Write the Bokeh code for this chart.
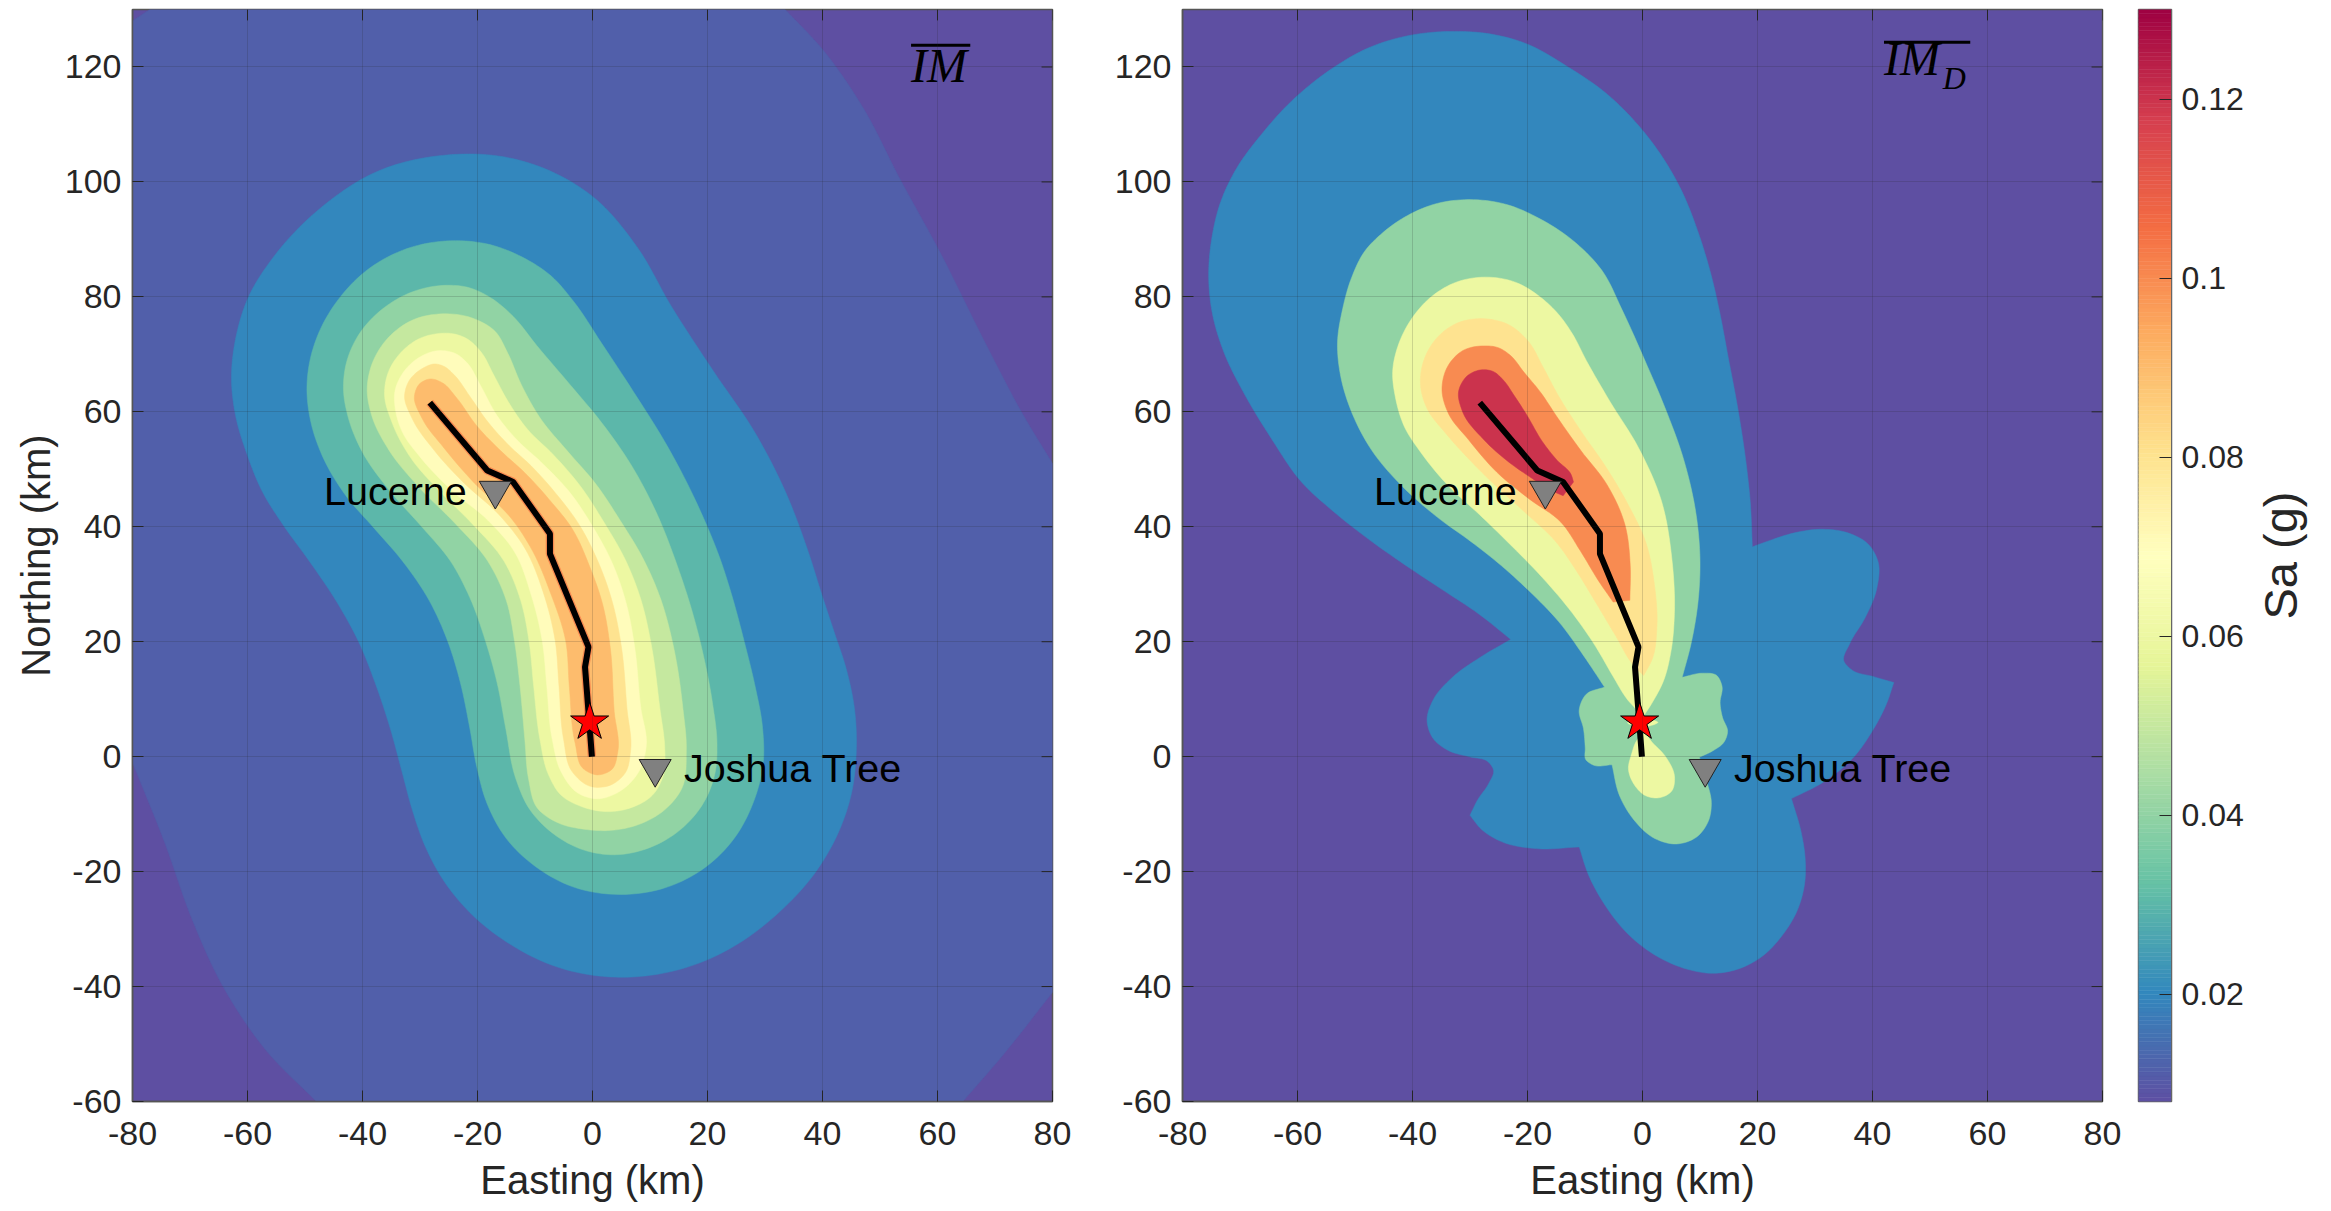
from bokeh.plotting import figure
from bokeh.layouts import row
from bokeh.models import Range1d, FixedTicker
from bokeh.core.properties import value
from bokeh.embed import file_html
from bokeh.resources import INLINE
import numpy as np
import math

x_ticks = list(range(-80, 81, 20))
y_ticks = list(range(-60, 121, 20))
x_tick_labels = {v: str(v) for v in x_ticks}
y_tick_labels = {v: str(v) for v in y_ticks}
cb_ticks = [0.02, 0.04, 0.06, 0.08, 0.10, 0.12]
cb_tick_labels = {0.02: "0.02", 0.04: "0.04", 0.06: "0.06", 0.08: "0.08", 0.10: "0.1", 0.12: "0.12"}
spectral = ["#5E4FA2", "#3288BD", "#66C2A5", "#ABDDA4", "#E6F598", "#FFFFBF", "#FEE08B", "#FDAE61", "#F46D43", "#D53E4F", "#9E0142"]
sa_min, sa_max = 0.008, 0.13

fault_x = [-28.3, -18.3, -13.8, -7.4, -7.4, -0.7, -1.3, -0.1]
fault_y = [61.6, 49.8, 47.8, 38.8, 35.3, 19.1, 15.6, 0.0]
epicenter = (-0.5, 6.0)
stations = {"Lucerne": (-16.9, 46.3), "Joshua Tree": (10.9, -2.1)}

# left panel contour outlines (Sa level -> easting, northing)
L010 = [(-77,130),(33.5,130),(40,123.5),(47.4,113),(53,101),(60,89),(68.7,71),(75,59),(80,51),(80,-41),(70.8,-52.8),(64.4,-60),(-48,-60),(-57,-51.5),(-64.4,-40.4),(-70,-28),(-74,-15.5),(-80,-1),(-80,128)]
L020 = [(-23.4,105.2),(-37.8,102.7),(-48.5,94.9),(-55.9,86.8),(-60.2,80),(-62.3,72.5),(-63,65.7),(-62.3,59.5),(-60.2,52.7),(-57.5,45.8),(-53.8,40.2),(-49.3,34.2),(-44.2,26.7),(-40.5,20),(-37.8,13),(-35.1,5),(-33,-3.1),(-31.4,-9.3),(-29.3,-15.5),(-26.1,-21.7),(-20.8,-28),(-14.4,-32.9),(-5.9,-37),(0.5,-38.2),(5.9,-38.5),(12.2,-37.9),(19.7,-35.7),(26.1,-32.3),(32.5,-27.3),(38.9,-20.5),(43.1,-13),(45.3,-6.2),(46,0.6),(45.8,8.1),(44.2,15.5),(42,21.7),(39.9,28),(38.1,34.2),(33.6,46.5),(28.8,56),(21,67),(13.3,78.6),(8.1,88.9),(0.4,98),(-9.1,103),(-16.5,104.7)]
L030 = [(-24.5,90.1),(-32.5,88.7),(-38.9,85.3),(-44.2,80),(-47.9,73.8),(-49.5,67.6),(-49.8,64.5),(-49.2,58.3),(-47.4,52.7),(-43.1,45.2),(-37.8,39.6),(-33,34.2),(-28.2,27.3),(-25,20),(-22.9,13),(-21.3,5),(-20.2,-1.9),(-18.6,-8.1),(-15.4,-14.3),(-10.1,-19.3),(-3.7,-23),(4.8,-24.4),(13.3,-23),(19.7,-19.6),(25,-14.3),(28.2,-8.1),(30,-0.6),(29.8,4.3),(28.2,13),(26.4,20),(24.5,27.3),(22.4,34.2),(18.6,43.4),(13.3,53.9),(6.9,63.9),(1.6,71.9),(-3.7,80),(-6.9,83.7),(-12.2,87.1),(-17.6,89.3)]
L040 = [(-25.3,82.2),(-31.4,81.2),(-36.7,78.1),(-41,73.5),(-43.1,68.2),(-43.5,63.9),(-42.6,58.9),(-40.5,53.3),(-35.7,46.5),(-29.3,39.6),(-24.5,34.2),(-21.3,28),(-18.5,20),(-16.5,13),(-15.1,5),(-13.5,-4.3),(-11.2,-9.3),(-6.9,-13.7),(-1.6,-16.5),(3.7,-17.4),(10.1,-16.1),(15.4,-13),(19.7,-8.1),(21.6,-2.5),(21.8,1.9),(21,9),(19.5,17),(17.5,25),(14.9,33),(11.2,42.7),(6.9,50.8),(1.6,58.3),(-3.7,64.5),(-10.1,71.9),(-13.8,76.9),(-17.6,80),(-21.8,81.9)]
L050 = [(-26.1,77.3),(-31.4,76.3),(-35.7,73.2),(-38.7,68.2),(-39.4,63.9),(-38.7,59.5),(-35.7,53.3),(-30.5,47),(-23.7,40.5),(-17.8,34.1),(-14.7,27.2),(-13.5,20),(-12.6,12.7),(-11.7,2.3),(-11.2,-4.1),(-10.1,-9.3),(-5.9,-11.8),(-1.6,-12.7),(3.2,-13),(8,-12.1),(12.8,-9.3),(15.9,-6.2),(16.5,1.2),(15.9,7.5),(14.1,20),(12.1,27.2),(8.9,34.7),(4.8,41.1),(0.8,47.5),(-4.5,53.3),(-9.1,58.5),(-12.6,64.9),(-14.9,70.7),(-16.5,74.1),(-20.8,76.6)]
L060 = [(-26.3,73.8),(-30.4,72.9),(-33.5,70.4),(-35.7,67),(-36.5,63.2),(-35.1,58.3),(-32,52),(-26.5,46),(-20.8,40.5),(-14.9,34.1),(-12.3,27.2),(-10.9,20),(-10.3,12.7),(-9.2,2.3),(-7.7,-3.5),(-5.9,-6.8),(-1.6,-9),(2.7,-9.8),(6.9,-9),(10.6,-7.1),(12.7,-3),(12.7,1.1),(11.8,7.5),(10.3,20),(8.6,27.2),(6,34.1),(2.2,40.5),(-2.2,47.5),(-6.8,52.7),(-11.5,56.8),(-14.9,62),(-17.3,66.6),(-19.3,70.7),(-22,73),(-24,73.6)]
L070 = [(-26.8,71),(-30.5,69.5),(-33,67),(-34.6,63.9),(-34.3,60),(-33.5,56.8),(-30.1,52.1),(-24.8,46.3),(-17.8,41.1),(-13.2,35.9),(-10.6,28.3),(-8.5,20),(-8,12.7),(-7.1,2.3),(-5.6,-3),(-2.7,-6.7),(0.8,-7.6),(4.2,-6.7),(8.3,-3),(9.8,1.7),(8.3,7.5),(7.4,20),(6,26.6),(3.7,33.6),(0.2,39.9),(-3.9,46.3),(-9.1,51.5),(-13.2,55),(-16.7,59.1),(-19.6,64.9),(-21.9,68.9),(-23.4,70.1)]
L080 = [(-27.2,68.5),(-29.5,67.8),(-32.1,65.5),(-33,63.1),(-31.8,59.1),(-27.7,53.3),(-22.5,47.5),(-16.1,42.3),(-11.5,36.5),(-8.5,28.9),(-6.2,20),(-5.9,12.7),(-5.1,2.3),(-3.9,-3),(-0.4,-5.6),(3.1,-5.3),(6,-3),(6.9,0.5),(6,7.5),(5.1,20),(3.7,26.6),(0.8,34.7),(-2.2,40.5),(-6.2,45.7),(-10.9,51),(-14.4,53.9),(-18.1,57.9),(-21.6,63.1),(-24,66.6),(-26,68.1)]
L090 = [(-28.3,66),(-30.3,64.9),(-31.3,63.1),(-30.1,59.1),(-26,53.9),(-20.8,47.5),(-13.8,41.7),(-10.3,35.9),(-7.4,28.9),(-4.2,20),(-4.2,12.7),(-3,1.1),(-1.9,-2.4),(0.8,-3.5),(3.7,-2.4),(4.7,0.2),(3.7,6.9),(3.2,20),(1.9,26.6),(-0.4,33),(-3.3,39.9),(-7.4,44.6),(-12,49.8),(-15.5,52.7),(-20.2,57.3),(-24,63.1),(-26,65.2)]

# right panel contour outlines
R020 = [(-33.5,126.3),(-39.9,125.8),(-47.4,123.8),(-54.8,119.4),(-61.2,114.2),(-66.6,108),(-70.8,102.4),(-73.5,96.8),(-75.1,89.9),(-75.6,83.7),(-75.1,77.5),(-72.9,70.1),(-69.8,63.9),(-64.5,55.2),(-59.2,47.1),(-53.8,42.7),(-48.5,38.4),(-42.6,34.2),(-34.6,28.9),(-28.2,24.8),(-22.9,20.4),(-28.2,17.4),(-33.5,13.7),(-36.7,9.9),(-37.8,6.2),(-36.7,3.1),(-34,0.9),(-29.8,-0.1),(-26.6,-0.7),(-25.6,-2.2),(-26.6,-4.7),(-28.8,-7.5),(-30,-10.2),(-28.2,-12.7),(-25,-14.9),(-18.6,-16.3),(-11,-15.7),(-9.6,-20.5),(-6.9,-25.5),(-2.7,-31.1),(2.7,-35.1),(8,-37.2),(12.2,-37.9),(16.5,-37.2),(20.8,-35.1),(24.5,-31.1),(27.2,-26.7),(28.4,-21.7),(28.4,-18),(27.7,-13),(25.9,-7.3),(31.4,-4.7),(36.7,-0.6),(40.4,5),(42.6,9.3),(43.7,12.9),(40,14),(36.2,14.9),(34.6,16.5),(35.7,19.3),(38.9,24.2),(41,29.2),(41.3,34.2),(39.4,37.2),(36.2,39),(31.4,39.8),(26.1,39),(21.8,37.5),(19.1,36.5),(18.8,44.6),(18.1,50.8),(16.5,61.4),(14.9,69.4),(13.3,78.1),(12.2,83.1),(9.6,91.8),(6.9,98.6),(3.7,104.2),(-0.5,109.8),(-5.9,115.4),(-12.8,120),(-20.8,124.7),(-27.2,126)]
R040 = [(-30.4,97.1),(-35.7,96.5),(-41,94.3),(-45.3,91.2),(-48.5,88.1),(-50.6,83.7),(-52.2,78.1),(-53.3,71.9),(-52.7,66.3),(-50.6,59.5),(-47.4,53.3),(-42.1,47.1),(-35.7,41.5),(-29.3,37.1),(-25.6,34.2),(-19.7,28.9),(-14.4,23.6),(-10.1,17.4),(-6.6,12.1),(-10.1,11.2),(-11.4,8.1),(-10.1,5),(-9.9,1.2),(-10.1,-0.6),(-8.8,-1.7),(-5.3,-1.4),(-4.3,-6.8),(-1.6,-11.2),(2.1,-14.6),(5.9,-15.5),(9.6,-14.3),(11.7,-11.2),(12.2,-8.1),(11.2,-4.3),(9.9,-0.1),(12.2,0.9),(14.4,2.5),(15.1,4.3),(13.8,6.8),(13.3,9.3),(14.1,12.4),(13.1,14.4),(10.6,14.7),(6.9,13.8),(8.5,19.3),(9.9,27.9),(10.1,34.2),(9.6,41.5),(7.5,51.4),(3.7,61.4),(0.5,68.8),(-3.7,78.1),(-6.9,85),(-11.2,89.3),(-17.6,93.7),(-24,96.5)]
R060 = [(-27.5,83.7),(-32.5,82.8),(-36.7,80.3),(-39.9,76.9),(-42.6,71.9),(-43.7,67),(-43.1,62.6),(-41.5,57),(-38.9,53.3),(-33.5,46.5),(-28.2,42.1),(-23.7,37.6),(-17.3,31.2),(-12,24.9),(-8,19.1),(-5.1,13.9),(-2.7,9.8),(-0.7,7.8),(-0.2,6.5),(1.6,9.2),(3.7,12.7),(5.1,18.5),(5.7,24.3),(5.3,34.2),(3.7,44.6),(-0.5,53.9),(-5.9,62),(-10.1,69.4),(-12.2,73.8),(-14.4,76.9),(-17.6,80),(-21.8,82.8)]
R060b = [(-3.3,5.9),(-1,6.6),(1,6.6),(3.4,6),(1,5.2),(-1,5.2)]
R060c = [(-0.5,3.7),(-2.1,0),(-2.7,-1.9),(-1.6,-5),(0.5,-7.1),(3.2,-7.3),(5.3,-6.2),(5.9,-3.7),(4.3,0),(1.6,2.5),(0,4.3)]
R080 = [(-27.4,76.5),(-32.5,75.7),(-35.7,73.2),(-37.8,70.1),(-38.7,66.3),(-38.7,64.3),(-37.6,60.2),(-34.7,56.8),(-30.6,52.1),(-25.4,46.9),(-20.2,42.3),(-14.9,37.6),(-11.5,32.4),(-8,26.6),(-4.5,20.8),(-1.6,15.6),(0.2,14.1),(1.9,16.8),(2.7,22),(2.2,30.1),(0.8,37.6),(-2.2,43.4),(-6.2,50.4),(-10.9,56.8),(-14.9,63.1),(-17.3,67.8),(-19.7,72.5),(-22.9,75.3)]
R100 = [(-27.5,71.6),(-31.4,71),(-34.1,68.2),(-35.2,63.7),(-34.1,59.7),(-30.6,55.6),(-25.4,49.2),(-19.6,44.6),(-13.8,41.1),(-10.9,35.9),(-7.4,30.1),(-5.1,26.9),(-2.2,27.2),(-2,33),(-2.7,40.5),(-5.9,47.5),(-10.9,53.3),(-14.9,59.1),(-17.8,63.7),(-20.8,67),(-22.9,70),(-25,71.3)]
R120 = [(-27.7,67.5),(-30.6,66.6),(-32.3,63.7),(-31.8,60.2),(-27.7,55),(-23.1,51),(-19,48.3),(-16.1,46.3),(-13.8,45.4),(-12,47.8),(-12,48.9),(-14.9,51.5),(-17.3,54.4),(-20.2,59.7),(-22.5,63.1),(-24.2,65.7),(-26,67.2)]

# vertices where the outline has a sharp corner
sharp = {(-22.9,20.4),(25.9,-7.3),(43.7,12.9),(19.1,36.5),(-11,-15.7),(-30,-10.2),(-6.6,12.1),(6.9,13.8),(-5.3,-1.4),(9.9,-0.1),(-0.2,6.5),(-13.8,45.4),(-12,47.8),(-5.1,26.9),(-2.2,27.2),(0.2,14.1),
         (-77,130),(33.5,130),(80,51),(80,-41),(64.4,-60),(-48,-60),(-80,-1),(-80,128)}

left_contours = [(0.0115, L010), (0.02, L020), (0.03, L030), (0.04, L040), (0.05, L050), (0.06, L060), (0.07, L070), (0.08, L080), (0.09, L090)]
right_contours = [(0.02, R020), (0.04, R040), (0.06, R060), (0.06, R060b), (0.06, R060c), (0.08, R080), (0.10, R100), (0.12, R120)]
left_bg, right_bg = 0.008, 0.008
left_fault_halo = 0.10

rgb = np.array([[int(c[i:i+2], 16) for i in (1, 3, 5)] for c in spectral], dtype=float)
def sa_color(v):
    t = np.clip((v - sa_min) / (sa_max - sa_min), 0, 1) * 10
    i = min(int(t), 9)
    c = rgb[i] + (rgb[i + 1] - rgb[i]) * (t - i)
    return "#%02x%02x%02x" % tuple(int(round(k)) for k in c)

def outline(pts):
    """Closed curve through the read vertices; a light pass evens out reading jitter."""
    P0 = np.array(pts, dtype=float)
    n = len(P0)
    P = np.array([P0[k] if pts[k] in sharp else 0.15 * P0[k - 1] + 0.7 * P0[k] + 0.15 * P0[(k + 1) % n] for k in range(n)])
    seg = np.roll(P, -1, axis=0) - P
    d = np.maximum(np.hypot(seg[:, 0], seg[:, 1]), 1e-6)
    u = seg / d[:, None]
    out = []
    for i in range(n):
        j = (i + 1) % n
        im = (i - 1) % n
        m0 = u[i] if pts[i] in sharp else (d[im] * u[i] + d[i] * u[im]) / (d[im] + d[i])
        m1 = u[i] if pts[j] in sharp else (d[j] * u[i] + d[i] * u[j]) / (d[i] + d[j])
        for t in np.linspace(0, 1, 8, endpoint=False):
            h00 = 2*t**3 - 3*t**2 + 1
            h10 = t**3 - 2*t**2 + t
            h01 = -2*t**3 + 3*t**2
            h11 = t**3 - t**2
            out.append(h00 * P[i] + h10 * d[i] * m0 + h01 * P[j] + h11 * d[i] * m1)
    out = np.array(out)
    return out[:, 0].tolist(), out[:, 1].tolist()

TXT = "#262626"
FONT = "Liberation Sans"
TICK_LEN = 1.9  # in data units, about 11 px

def style_axes(p, label_left):
    xa, ya = p.below[0], p.left[0]
    xa.ticker = FixedTicker(ticks=x_ticks)
    ya.ticker = FixedTicker(ticks=y_ticks)
    xa.major_label_overrides = x_tick_labels
    ya.major_label_overrides = y_tick_labels
    for ax in (xa, ya):
        ax.major_tick_in = 11
        ax.major_tick_out = 0
        ax.minor_tick_in = 0
        ax.minor_tick_out = 0
        ax.major_tick_line_color = TXT
        ax.major_tick_line_width = 1
        ax.axis_line_color = "#555555"
        ax.axis_line_width = 1.5
        ax.major_label_text_font = FONT
        ax.major_label_text_font_size = "34px"
        ax.major_label_text_color = TXT
        ax.axis_label_text_font = FONT
        ax.axis_label_text_font_size = "40px"
        ax.axis_label_text_font_style = "normal"
        ax.axis_label_text_color = TXT
    xa.major_label_standoff = 20
    xa.axis_label_standoff = 10
    ya.major_label_standoff = 11
    ya.axis_label_standoff = 4
    xa.axis_label = "Easting (km)"
    if label_left:
        ya.axis_label = "Northing (km)"
    p.xgrid.ticker = FixedTicker(ticks=x_ticks)
    p.ygrid.ticker = FixedTicker(ticks=y_ticks)
    for g in (p.xgrid, p.ygrid):
        g.level = "overlay"
        g.grid_line_color = TXT
        g.grid_line_alpha = 0.17
        g.grid_line_width = 1
    # ticks mirrored on the top and right of the box
    p.segment(x_ticks, [130] * len(x_ticks), x_ticks, [130 - TICK_LEN] * len(x_ticks), line_color=TXT, line_width=1)
    p.segment([80] * len(y_ticks), y_ticks, [80 - TICK_LEN] * len(y_ticks), y_ticks, line_color=TXT, line_width=1)

def panel(contours, bg, lb, rb, width, label_left, halo=None):
    p = figure(width=width, height=1201, frame_width=920, frame_height=1092, output_backend="svg", toolbar_location=None,
               x_range=Range1d(-80, 80), y_range=Range1d(-60, 130),
               min_border_left=lb, min_border_right=rb, min_border_top=9, min_border_bottom=100)
    p.background_fill_color = sa_color(bg)
    p.outline_line_color = "#555555"
    p.outline_line_width = 1.5
    for lvl, pts in contours:
        xs, ys = outline(pts)
        p.patch(xs, ys, fill_color=sa_color(lvl), line_color=sa_color(lvl), line_width=0.5)
    if halo is not None:
        p.line(fault_x, fault_y, line_color=sa_color(halo), line_width=8.5)
    p.line(fault_x, fault_y, line_color="black", line_width=6)
    p.scatter([epicenter[0]], [epicenter[1]], marker="star", size=40, fill_color="red", line_color="black", line_width=1)
    sx = [v[0] for v in stations.values()]
    sy = [v[1] for v in stations.values()]
    p.scatter(sx, sy, marker="inverted_triangle", size=32, fill_color="#808080", line_color="#222222", line_width=1)
    p.text([-46.7, 15.9], [46.3, -2.0], text=list(stations.keys()), text_font=value(FONT), text_font_size="39.5px",
           text_baseline="middle", text_color="black")
    style_axes(p, label_left)
    return p

def overline(p, x0, x1, y):
    p.line([x0, x1], [y, y], line_color="black", line_width=3)

p1 = panel(left_contours, left_bg, 132, 30, 1082, True, left_fault_halo)
p2 = panel(right_contours, right_bg, 100, 24, 1044, False)

overline(p1, 55.4, 65.7, 123.8)
p1.text([55.4], [120.3], text=["IM"], text_font=value("Liberation Serif"), text_font_style="italic", text_font_size="48px", text_color="black", text_baseline="alphabetic")
overline(p2, 42.0, 57.0, 124.3)
p2.text([42.0], [121.4], text=["IM"], text_font=value("Liberation Serif"), text_font_style="italic", text_font_size="48px", text_color="black", text_baseline="alphabetic")
p2.text([52.2], [118.1], text=["D"], text_font=value("Liberation Serif"), text_font_style="italic", text_font_size="32px", text_color="black", text_baseline="alphabetic")

levels = np.linspace(sa_min, sa_max, 257)
cb = figure(width=120, height=1201, frame_width=33, frame_height=1092, output_backend="svg", toolbar_location=None,
            x_range=Range1d(0, 1), y_range=Range1d(sa_min, sa_max),
            min_border_left=12, min_border_right=75, min_border_top=9, min_border_bottom=100,
            y_axis_location="right")
cols = [sa_color((a + b) / 2) for a, b in zip(levels[:-1], levels[1:])]
cb.quad(left=0, right=1, bottom=levels[:-1], top=levels[1:], fill_color=cols, line_color=cols, line_width=0.5)
cb.xaxis.visible = False
cb.grid.visible = False
cb.outline_line_color = "#666666"
cb.outline_line_width = 1.5
ax = cb.right[0]
ax.ticker = FixedTicker(ticks=cb_ticks)
ax.major_label_overrides = cb_tick_labels
ax.major_tick_in = 12
ax.major_tick_out = 0
ax.minor_tick_in = 0
ax.minor_tick_out = 0
ax.major_tick_line_color = TXT
ax.axis_line_color = "#666666"
ax.major_label_text_font = FONT
ax.major_label_text_font_size = "32px"
ax.major_label_text_color = TXT
ax.major_label_standoff = 10

# colorbar title, in a narrow strip of its own beside the colorbar
strip = figure(width=70, height=1201, frame_width=70, frame_height=1201, output_backend="svg", toolbar_location=None,
               x_range=Range1d(0, 70), y_range=Range1d(0, 1201), x_axis_location=None, y_axis_location=None,
               min_border_left=0, min_border_right=0, min_border_top=0, min_border_bottom=0)
strip.grid.visible = False
strip.outline_line_color = None
strip.text([34], [655], text=["Sa (g)"], angle=math.pi / 2, text_font=value(FONT), text_font_size="47px",
           text_color=TXT, text_align="center", text_baseline="middle")

page = row(p1, p2, cb, strip, spacing=0)
open("out.html", "w").write(file_html(page, INLINE))
